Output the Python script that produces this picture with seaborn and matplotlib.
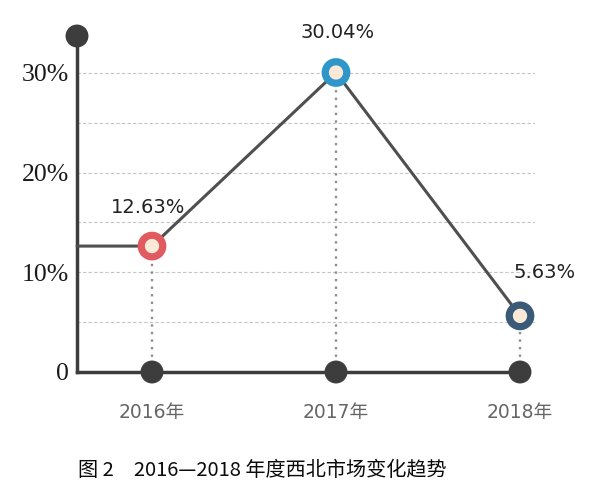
import matplotlib
matplotlib.use("Agg")
import matplotlib.pyplot as plt
import seaborn as sns
import pandas as pd
import numpy as np

# ---- data ----
years = ["2016年", "2017年", "2018年"]
values = [12.63, 30.04, 5.63]
value_labels = ["12.63%", "30.04%", "5.63%"]
ring_colors = ["#e05a5f", "#2e96c8", "#3a5a78"]
y_ticks = [0, 10, 20, 30]
y_tick_labels = ["0", "10%", "20%", "30%"]
grid_levels = [5, 10, 15, 20, 25, 30]
caption = "图 2\u30002016—2018 年度西北市场变化趋势"

sns.set_style("white")
plt.rcParams['font.family'] = ['DejaVu Sans', 'Noto Sans CJK SC']

fig = plt.figure(figsize=(6, 5.04), dpi=100)
ax = fig.add_axes([77 / 600, (504 - 372) / 504, 458 / 600, 336 / 504])

x = np.arange(len(years))
xmin = -75 / 184
xmax = 2 + 15 / 184
ymax = 33.7
ax.set_xlim(xmin, xmax)
ax.set_ylim(0, ymax)

dark = "#3d3d3d"
line_c = "#4f4f4f"

# grid lines
ax.hlines(grid_levels, xmin, xmax, colors="#c4c4c4", linestyles=(0, (3, 2)), lw=0.8, zorder=1)

# vertical dotted drop lines
ax.vlines(x, 0, values, colors="#8f8f8f", linestyles=(0, (1, 2.2)), lw=1.7, zorder=2)

# axes lines
for s in ["top", "right"]:
    ax.spines[s].set_visible(False)
ax.spines["left"].set_color(dark)
ax.spines["left"].set_linewidth(2.5)
ax.spines["bottom"].set_color(dark)
ax.spines["bottom"].set_linewidth(2.5)
ax.spines["bottom"].set_bounds(xmin, x[-1])

# main trend line (starting from the y axis)
line_df = pd.DataFrame({"pos": [xmin] + list(x), "val": [values[0]] + values})
sns.lineplot(data=line_df, x="pos", y="val", sort=False, color=line_c, lw=2.2,
             ax=ax, zorder=3, clip_on=False)

# baseline dots and axis-top dot
base_df = pd.DataFrame({"pos": list(x) + [xmin], "val": [0, 0, 0, ymax]})
sns.scatterplot(data=base_df, x="pos", y="val", color=dark, s=16.5 ** 2,
                edgecolor="none", ax=ax, zorder=5, clip_on=False)

# ring markers
pt_df = pd.DataFrame({"pos": x, "val": values})
sns.scatterplot(data=pt_df, x="pos", y="val", color="#fbe9d7", s=15.5 ** 2,
                edgecolor=ring_colors, linewidth=5.2, ax=ax, zorder=6, clip_on=False)

# value labels
offsets = [(-3, 28), (1, 29), (18, 31)]
for xi, v, lab, off in zip(x, values, value_labels, offsets):
    ax.annotate(lab, (xi, v), xytext=off, textcoords="offset points",
                ha="center", va="center", fontsize=14, color="#222222")

# ticks
ax.set_yticks(y_ticks, y_tick_labels)
for t in ax.get_yticklabels():
    t.set_fontfamily("Liberation Serif")
    t.set_fontsize(18.5)
    t.set_color("#1a1a1a")
ax.tick_params(axis="y", length=0, pad=6)
ax.set_xticks(x, years)
ax.tick_params(axis="x", length=0, pad=22, labelsize=13.5, labelcolor="#666666")
ax.set_xlabel("")
ax.set_ylabel("")

fig.text(262 / 600, 1 - 470 / 504, caption, ha="center", va="center",
         fontsize=14.5, color="#0a0a0a", fontweight="medium",
         family=["Noto Sans CJK SC", "DejaVu Sans"])

fig.savefig("out.png", dpi=100)
